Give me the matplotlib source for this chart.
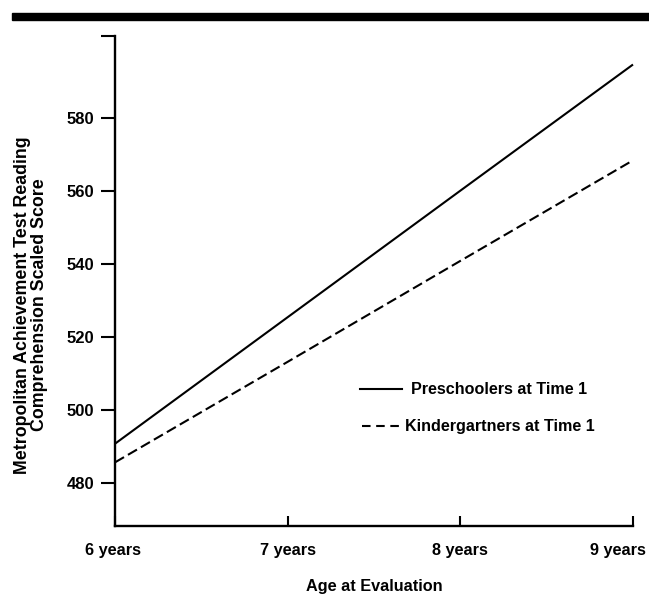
import matplotlib
matplotlib.use("Agg")
import matplotlib.pyplot as plt
import matplotlib.transforms as mtransforms
from matplotlib.patches import Rectangle
from matplotlib.lines import Line2D

plt.rcParams['font.family'] = ['Liberation Sans', 'DejaVu Sans']

ages = [6, 7, 8, 9]
age_labels = ["6 years", "7 years", "8 years", "9 years"]
preschoolers = [490.8, 525.4, 560.0, 594.5]
kindergartners = [485.7, 513.2, 540.8, 568.3]
y_ticks = [480, 500, 520, 540, 560, 580]
series_names = ["Preschoolers at Time 1", "Kindergartners at Time 1"]

W, H = 649, 597
fig = plt.figure(figsize=(W / 100, H / 100), dpi=100)
ax = fig.add_axes([115 / W, 1 - 526 / H, (633 - 115) / W, (526 - 36) / H])

DASH = (5.0, 2.2)
LEG_DASH = (4.1, 2.7)
LW = 1.5
ax.plot(ages, preschoolers, color='black', lw=LW, solid_capstyle='butt', clip_on=False)
ax.plot(ages, kindergartners, color='black', lw=LW, dashes=DASH, clip_on=False)

ax.set_xlim(6, 9)
ax.set_ylim(468.3, 602.3)

for s in ['top', 'right']:
    ax.spines[s].set_visible(False)
for s in ['left', 'bottom']:
    ax.spines[s].set_linewidth(1.7)

ax.tick_params(axis='y', direction='out', length=10, width=1.5, pad=5)
ax.tick_params(axis='x', direction='in', length=7, width=1.5, pad=12)

ax.set_yticks(y_ticks + [602.3])
ax.set_yticklabels([str(t) for t in y_ticks] + [""], fontsize=12, fontweight='bold')
ax.set_xticks(ages)
ax.set_xticklabels(age_labels, fontsize=11.7, fontweight='bold')

ax.set_xlabel("Age at Evaluation", fontsize=11.7, fontweight='bold')
ax.xaxis.set_label_coords(0.5, (526 - 586) / (526 - 36))
ax.xaxis.label.set_va('center')
ax.set_ylabel("Metropolitan Achievement Test Reading\nComprehension Scaled Score",
              fontsize=12.8, fontweight='bold', linespacing=1.0)
ax.yaxis.set_label_coords((31 - 115) / (633 - 115), (526 - 305) / (526 - 36))
ax.yaxis.label.set_va('center')

# shift the end labels like in the original print (after all tick_params calls)
ticks = ax.xaxis.get_major_ticks()
first = ticks[0].label1
first.set_transform(first.get_transform() +
                    mtransforms.ScaledTranslation(-2 / 100, 0, fig.dpi_scale_trans))
last = ticks[-1].label1
last.set_transform(last.get_transform() +
                   mtransforms.ScaledTranslation(-15 / 100, 0, fig.dpi_scale_trans))

# legend drawn manually in figure coordinates
def fx(px):
    return px / W
def fy(py):
    return 1 - py / H

fig.add_artist(Line2D([fx(360), fx(402)], [fy(389), fy(389)], color='black', lw=LW,
                      transform=fig.transFigure))
fig.text(fx(411), fy(389), series_names[0], fontsize=11.6, fontweight='bold',
         va='center', ha='left')
fig.add_artist(Line2D([fx(362), fx(399.5)], [fy(426), fy(426)], color='black', lw=LW,
                      dashes=LEG_DASH, transform=fig.transFigure))
fig.text(fx(405), fy(426), series_names[1], fontsize=11.6, fontweight='bold',
         va='center', ha='left')

# top heavy rule
fig.add_artist(Rectangle((fx(12), fy(20)), 1 - fx(12), (20 - 13) / H, color='black',
                         transform=fig.transFigure))

fig.savefig("out.png", dpi=100)
